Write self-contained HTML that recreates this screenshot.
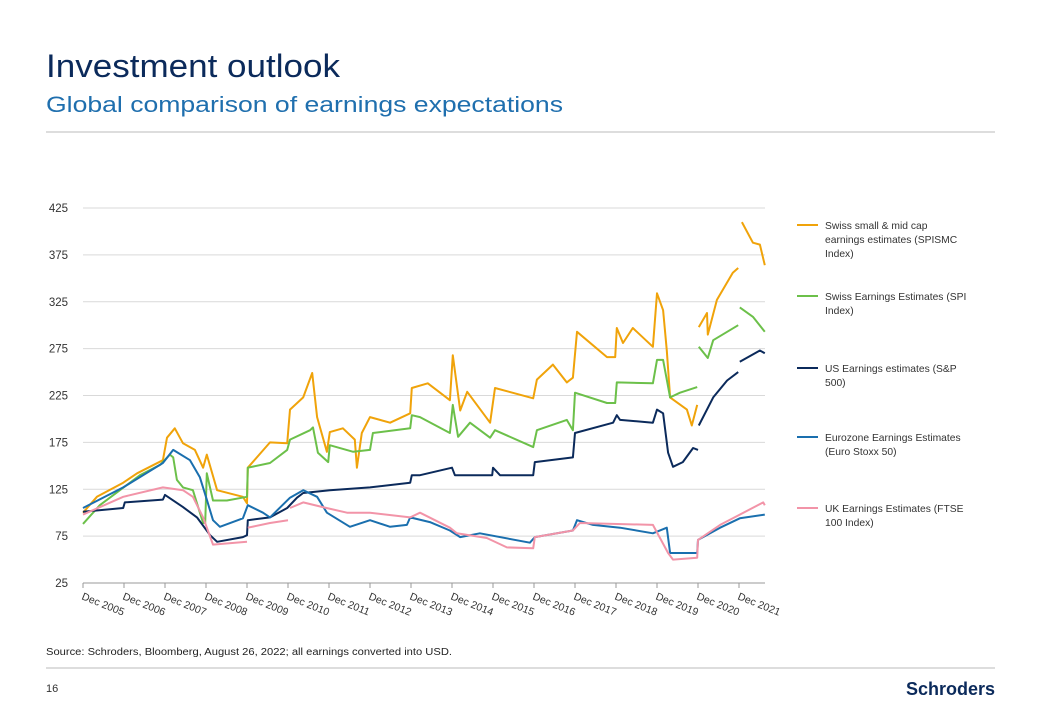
<!DOCTYPE html>
<html><head><meta charset="utf-8"><style>
body{margin:0;background:#fff;width:1040px;height:720px;overflow:hidden;font-family:"Liberation Sans","DejaVu Sans",sans-serif;}
</style></head><body>
<svg width="1040" height="720" xmlns="http://www.w3.org/2000/svg">
<text x="46" y="77" font-size="32" fill="#0b2a5b" textLength="294" lengthAdjust="spacingAndGlyphs">Investment outlook</text>
<text x="46" y="112" font-size="22" fill="#1f6fae" textLength="517" lengthAdjust="spacingAndGlyphs">Global comparison of earnings expectations</text>
<line x1="46" y1="132" x2="995" y2="132" stroke="#bbb" stroke-width="1"/>
<g id="grid"></g>
<g id="yaxis"></g>
<g id="xaxis"></g>
<g id="series"></g>
<g id="legend"></g>
<text x="46" y="655" font-size="10" fill="#222" textLength="406" lengthAdjust="spacingAndGlyphs">Source: Schroders, Bloomberg, August 26, 2022; all earnings converted into USD.</text>
<line x1="46" y1="668" x2="995" y2="668" stroke="#bbb" stroke-width="1"/>
<text x="46" y="692" font-size="11" fill="#333">16</text>
<text x="995" y="695" font-size="18" font-weight="bold" fill="#0b2a5b" text-anchor="end">Schroders</text>
</svg>
<script>
const yTicks=[25,75,125,175,225,275,325,375,425];
const xTickYears=[2005,2006,2007,2008,2009,2010,2011,2012,2013,2014,2015,2016,2017,2018,2019,2020,2021];
const seriesNames=["Swiss small & mid cap|earnings estimates (SPISMC|Index)","Swiss Earnings Estimates (SPI|Index)","US Earnings estimates (S&P|500)","Eurozone Earnings Estimates|(Euro Stoxx 50)","UK Earnings Estimates (FTSE|100 Index)"];
const seriesColors=["#f0a30a","#6cc04a","#0b2a5b","#1a6fae","#f294a8"];
const swissSmallMid=[[2005.92,100],[2006.26,117],[2006.90,132],[2007.24,142],[2007.87,156],[2007.97,180],[2008.16,190],[2008.36,174],[2008.65,167],[2008.85,148],[2008.94,162],[2009.19,124],[2009.82,117],[2009.92,110],[2009.94,148],[2010.48,175],[2010.90,174],[2010.97,210],[2011.29,223],[2011.51,249],[2011.63,202],[2011.87,165],[2011.94,186],[2012.26,190],[2012.55,178],[2012.60,148],[2012.72,185],[2012.92,202],[2013.41,196],[2013.90,206],[2013.94,233],[2014.33,238],[2014.87,220],[2014.94,268],[2015.12,209],[2015.29,229],[2015.85,196],[2015.97,233],[2016.90,222],[2016.99,242],[2017.38,258],[2017.72,239],[2017.87,244],[2017.97,293],[2018.70,266],[2018.90,266],[2018.94,297],[2019.09,281],[2019.33,297],[2019.82,277],[2019.92,334],[2020.07,316],[2020.16,273],[2020.24,223],[2020.65,210],[2020.77,193],[2020.90,215],[2020.93,null],[2020.94,298],[2021.14,313],[2021.16,290],[2021.38,327],[2021.77,356],[2021.90,361],[2021.92,null],[2021.99,410],[2022.26,388],[2022.43,386],[2022.55,364]];
const swissSpi=[[2005.92,88],[2006.33,108],[2006.82,124],[2007.31,140],[2007.80,151],[2008.04,162],[2008.12,159],[2008.21,135],[2008.36,127],[2008.60,124],[2008.85,89],[2008.90,89],[2008.94,142],[2009.09,113],[2009.43,113],[2009.92,117],[2009.94,148],[2010.48,153],[2010.90,167],[2010.97,178],[2011.46,188],[2011.53,191],[2011.65,164],[2011.90,154],[2011.94,172],[2012.51,165],[2012.92,167],[2012.99,185],[2013.90,190],[2013.94,204],[2014.14,202],[2014.87,185],[2014.94,215],[2015.07,181],[2015.36,196],[2015.85,180],[2015.97,188],[2016.90,170],[2016.99,188],[2017.72,199],[2017.87,188],[2017.92,228],[2018.70,217],[2018.90,217],[2018.94,239],[2019.82,238],[2019.92,263],[2020.07,263],[2020.24,223],[2020.48,228],[2020.90,234],[2020.93,null],[2020.94,277],[2021.16,265],[2021.29,284],[2021.90,300],[2021.92,null],[2021.94,319],[2022.26,309],[2022.55,293]];
const usSp500=[[2005.92,101],[2006.90,105],[2006.94,111],[2007.87,114],[2007.92,119],[2008.36,106],[2008.70,95],[2009.02,76],[2009.19,69],[2009.82,74],[2009.92,76],[2009.94,92],[2010.48,95],[2010.90,105],[2011.14,116],[2011.29,121],[2011.94,124],[2012.92,127],[2013.90,132],[2013.94,140],[2014.14,140],[2014.92,148],[2014.99,140],[2015.90,140],[2015.92,148],[2016.09,140],[2016.90,140],[2016.94,154],[2017.87,159],[2017.92,185],[2018.85,196],[2018.94,204],[2019.02,199],[2019.82,196],[2019.92,210],[2020.07,206],[2020.19,164],[2020.31,149],[2020.55,154],[2020.80,169],[2020.92,167],[2020.93,null],[2020.94,193],[2021.29,223],[2021.63,241],[2021.90,250],[2021.92,null],[2021.94,261],[2022.43,273],[2022.55,270]];
const eurozone=[[2005.92,105],[2006.90,127],[2007.87,153],[2008.12,167],[2008.53,156],[2008.77,138],[2008.94,114],[2009.09,92],[2009.26,85],[2009.82,94],[2009.94,108],[2010.31,100],[2010.48,95],[2010.97,116],[2011.29,124],[2011.63,117],[2011.87,100],[2012.43,85],[2012.92,92],[2013.41,85],[2013.82,87],[2013.90,95],[2014.38,90],[2014.87,81],[2015.12,74],[2015.60,78],[2016.82,68],[2016.94,74],[2017.87,81],[2017.97,92],[2018.36,87],[2019.02,84],[2019.82,78],[2020.16,84],[2020.24,57],[2020.90,57],[2020.92,71],[2021.46,84],[2021.94,94],[2022.55,98]];
const ukFtse=[[2005.92,98],[2006.90,117],[2007.87,127],[2008.36,124],[2008.60,117],[2008.85,95],[2009.09,66],[2009.92,69],[2009.93,null],[2009.94,84],[2010.48,89],[2010.92,92],[2010.93,null],[2010.97,105],[2011.29,111],[2011.77,106],[2012.36,100],[2012.92,100],[2013.90,95],[2014.14,100],[2014.87,84],[2015.04,78],[2015.77,73],[2016.26,63],[2016.90,62],[2016.94,74],[2017.87,81],[2018.04,89],[2019.82,87],[2020.19,57],[2020.31,50],[2020.90,52],[2020.92,71],[2021.46,87],[2021.94,98],[2022.51,111],[2022.55,108]];
const allSeries=[swissSmallMid,swissSpi,usSp500,eurozone,ukFtse];
const seriesKeys=["swiss-small-mid","swiss-spi","us-sp500","eurozone","uk-ftse"];

const NS="http://www.w3.org/2000/svg";
const X0=83,PXY=41,Y0=583,YMIN=25,PXU=375/400,XR=765;
function xs(yr){return X0+(yr-2005.92)*PXY;}
function ys(v){return Y0-(v-YMIN)*PXU;}
function mk(tag,attrs,parent){const e=document.createElementNS(NS,tag);for(const k in attrs)e.setAttribute(k,attrs[k]);parent.appendChild(e);return e;}
const grid=document.getElementById('grid'),ya=document.getElementById('yaxis'),xa=document.getElementById('xaxis'),sg=document.getElementById('series'),lg=document.getElementById('legend');
yTicks.forEach(t=>{
  if(t>YMIN){const l=mk('line',{x1:X0,x2:XR,y1:ys(t),y2:ys(t),stroke:'#d9d9d9','stroke-width':1},grid);
  
  }
  const tx=mk('text',{x:68,y:ys(t)+4,'font-size':11.5,fill:'#333','text-anchor':'end'},ya);tx.textContent=t;
  
  
});
const ax=mk('line',{x1:X0,x2:XR,y1:Y0,y2:Y0,stroke:'#999','stroke-width':1},xa);


xTickYears.forEach(y=>{
  const x=xs(y+0.92);
  const tk=mk('line',{x1:x,x2:x,y1:Y0,y2:Y0+5,stroke:'#999','stroke-width':1},xa);
  
  
  const tx=mk('text',{x:x-2,y:Y0+16,'font-size':10.5,fill:'#333',transform:`rotate(22 ${x-2} ${Y0+16})`},xa);tx.textContent='Dec '+y;
  
  
});
allSeries.forEach((s,i)=>{
  let d='',pen=false;
  s.forEach(p=>{if(p[1]===null){pen=false;return;}d+=(pen?'L':'M')+xs(p[0]).toFixed(1)+' '+ys(p[1]).toFixed(1);pen=true;});
  const path=mk('path',{d:d,fill:'none',stroke:seriesColors[i],'stroke-width':2,'stroke-linejoin':'round'},sg);
  
  
});
const legY=[225,296,368,437,508];
seriesNames.forEach((n,i)=>{
  const g=mk('g',{},lg);
  
  
  mk('line',{x1:797,x2:818,y1:legY[i],y2:legY[i],stroke:seriesColors[i],'stroke-width':2},g);
  n.split('|').forEach((ln,j)=>{const t=mk('text',{x:825,y:legY[i]+4+j*14,'font-size':10.3,fill:'#333'},g);t.textContent=ln;});
});
</script>
</body></html>
